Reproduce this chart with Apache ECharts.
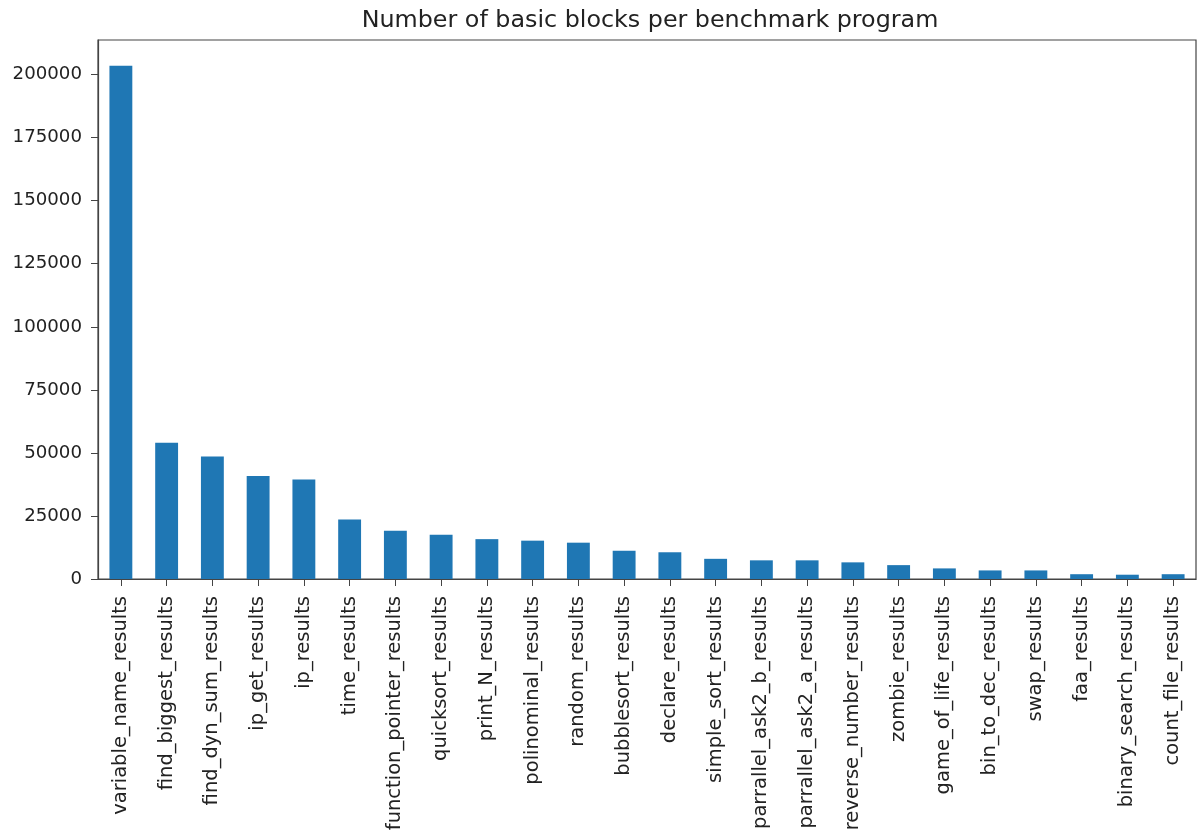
<!DOCTYPE html>
<html><head><meta charset="utf-8">
<script src="https://cdn.jsdelivr.net/npm/echarts@6/dist/echarts.min.js"></script>
<style>html,body{margin:0;padding:0;background:#fff}#c{width:1198px;height:834px}</style>
</head><body><div id="c"></div>
<script>
const categories = ["variable_name_results","find_biggest_results","find_dyn_sum_results","ip_get_results","ip_results","time_results","function_pointer_results","quicksort_results","print_N_results","polinominal_results","random_results","bubblesort_results","declare_results","simple_sort_results","parrallel_ask2_b_results","parrallel_ask2_a_results","reverse_number_results","zombie_results","game_of_life_results","bin_to_dec_results","swap_results","faa_results","binary_search_results","count_file_results"];
const values = [203500,54000,48600,40800,39400,23600,19100,17500,15800,15200,14400,11200,10600,8000,7400,7400,6600,5500,4200,3400,3400,1900,1700,1900];
const yTicks = [0,25000,50000,75000,100000,125000,150000,175000,200000];
const title = "Number of basic blocks per benchmark program";

const chart = echarts.init(document.getElementById('c'), null, {renderer:'canvas'});
const font = 'DejaVu Sans';
chart.setOption({
  animation:false,
  backgroundColor:'#fff',
  title:{text:title,left:645,textAlign:'center',top:4,textStyle:{fontFamily:font,fontSize:23.8,fontWeight:'normal',color:'#222'}},
  grid:{left:98,right:2,top:40,bottom:255,show:true,borderColor:'#444',borderWidth:1.2,backgroundColor:'transparent'},
  xAxis:{type:'category',data:categories,
    axisLine:{show:true,lineStyle:{color:'#444',width:1.2}},
    axisTick:{show:true,alignWithLabel:true,length:7,lineStyle:{color:'#444'}},
    axisLabel:{rotate:90,interval:0,margin:17,fontFamily:font,fontSize:19.5,color:'#222'},
    splitLine:{show:false}},
  yAxis:{type:'value',min:0,max:213700,
    axisLine:{show:true,lineStyle:{color:'#444',width:1.2}},
    axisTick:{show:true,length:7,lineStyle:{color:'#444'},customValues:yTicks},
    axisLabel:{margin:16,fontFamily:font,fontSize:18.2,color:'#222',customValues:yTicks,formatter:v=>String(v)},
    splitLine:{show:false}},
  series:[{type:'bar',data:values,barWidth:'50%',itemStyle:{color:'#1f77b4'}}]
});
</script></body></html>
